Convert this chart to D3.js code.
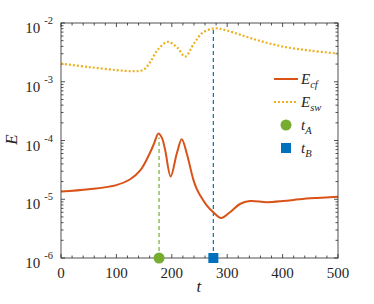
<!DOCTYPE html>
<html>
<head>
<meta charset="utf-8">
<title>E vs t</title>
<script src="https://cdn.jsdelivr.net/npm/d3@7"></script>
<style>
  body { margin: 0; background: #fff; }
  svg text { font-family: "Liberation Serif", "DejaVu Serif", serif; }
</style>
</head>
<body>
<div id="chart"></div>
<script>
// values
var tCf = [0, 50, 100, 125, 143, 160, 168, 176, 182, 188, 198, 209, 218, 227, 239, 245, 251, 263, 275, 289, 305, 323, 341, 371, 401, 431, 462, 500];
var eCf = [1.35e-5, 1.48e-5, 1.74e-5, 2.19e-5, 3.09e-5, 6.0e-5, 8.9e-5, 1.32e-4, 1.12e-4, 6.9e-5, 2.45e-5, 6.0e-5, 1.05e-4, 6.0e-5, 2.14e-5, 1.5e-5, 1.17e-5, 7.9e-6, 6.0e-6, 4.8e-6, 6.0e-6, 8.3e-6, 9.3e-6, 8.9e-6, 9.3e-6, 1.0e-5, 1.05e-5, 1.1e-5];

var tSw = [0, 50, 100, 130, 148, 160, 175, 193, 210, 224, 240, 255, 278, 300, 350, 400, 450, 500];
var eSw = [2.04e-3, 1.78e-3, 1.58e-3, 1.51e-3, 1.58e-3, 2.09e-3, 3.55e-3, 4.79e-3, 3.8e-3, 2.69e-3, 4.47e-3, 6.76e-3, 8.13e-3, 7.41e-3, 5.25e-3, 3.98e-3, 3.39e-3, 3.02e-3];

var tA = 177, tB = 275;
var xTicks = [0, 100, 200, 300, 400, 500];
var yExps = [-6, -5, -4, -3, -2];

var W = 374, H = 304;
var m = {left: 61, right: 36, top: 23, bottom: 46};

var svg = d3.select("#chart").append("svg")
    .attr("width", W).attr("height", H);

var x = d3.scaleLinear().domain([0, 500]).range([m.left, W - m.right]);
var y = d3.scaleLog().domain([1e-6, 1e-2]).range([H - m.bottom, m.top]);

var axisCol = "#262626";
var x0 = x(0), x1 = x(500), y0 = y(1e-6), y1 = y(1e-2);

// ticks, inward on all four sides
var g = svg.append("g").attr("stroke", axisCol).attr("stroke-width", 0.8);
d3.range(0, 501, 20).forEach(function(v) {
  var len = v % 100 === 0 ? 4 : 2.5;
  g.append("line").attr("x1", x(v)).attr("x2", x(v)).attr("y1", y0).attr("y2", y0 - len);
  g.append("line").attr("x1", x(v)).attr("x2", x(v)).attr("y1", y1).attr("y2", y1 + len);
});
yExps.forEach(function(e) {
  for (var k = 1; k <= 9; k++) {
    if (e === -2 && k > 1) break;
    var v = k * Math.pow(10, e), len = k === 1 ? 4 : 2.5;
    g.append("line").attr("x1", x0).attr("x2", x0 + len).attr("y1", y(v)).attr("y2", y(v));
    g.append("line").attr("x1", x1).attr("x2", x1 - len).attr("y1", y(v)).attr("y2", y(v));
  }
});

// tick labels
svg.selectAll(".xl").data(xTicks).enter().append("text")
    .attr("x", function(d) { return x(d); })
    .attr("y", y0 + 20)
    .attr("text-anchor", "middle")
    .style("font-size", "15px")
    .style("fill", axisCol)
    .text(function(d) { return d; });

var yl = svg.selectAll(".yl").data(yExps).enter().append("text")
    .attr("x", x0 - 8)
    .attr("y", function(d) { return y(Math.pow(10, d)) + 10; })
    .attr("text-anchor", "end")
    .style("font-size", "15px")
    .style("fill", axisCol);
yl.append("tspan").text("10");
yl.append("tspan").attr("dx", 4).attr("dy", -9).style("font-size", "10.5px")
    .text(function(d) { return d; });

// axis titles
svg.append("text").attr("x", x(250) - 3).attr("y", H - 12)
    .style("font-size", "17px").style("font-style", "italic").style("fill", axisCol).text("t");
svg.append("text")
    .attr("transform", "translate(17," + (y(1e-4) - 1) + ") rotate(-90)")
    .attr("text-anchor", "middle")
    .style("font-size", "17px").style("font-style", "italic").style("fill", axisCol).text("E");

// vertical markers
var cfAt = function(t) {
  var i = d3.bisectLeft(tCf, t);
  return eCf[Math.min(i, eCf.length - 1)];
};
svg.append("line").attr("x1", x(tA)).attr("x2", x(tA))
    .attr("y1", y0).attr("y2", y(cfAt(tA)))
    .attr("stroke", "#77AC30").attr("stroke-width", 1.2).attr("stroke-dasharray", "4,3");
svg.append("line").attr("x1", x(tB)).attr("x2", x(tB))
    .attr("y1", y0).attr("y2", y(8.0e-3))
    .attr("stroke", "#0072BD").attr("stroke-width", 1.2).attr("stroke-dasharray", "4,3");

var line = d3.line().curve(d3.curveCatmullRom)
    .x(function(d) { return x(d[0]); })
    .y(function(d) { return y(d[1]); });

svg.append("path").datum(d3.zip(tSw, eSw)).attr("d", line)
    .attr("fill", "none").attr("stroke", "#EDB120")
    .attr("stroke-width", 2.2).attr("stroke-dasharray", "2,2");
svg.append("path").datum(d3.zip(tCf, eCf)).attr("d", line)
    .attr("fill", "none").attr("stroke", "#D95319").attr("stroke-width", 2);

// box
svg.append("rect").attr("x", x0).attr("y", y1)
    .attr("width", x1 - x0).attr("height", y0 - y1)
    .attr("fill", "none").attr("stroke", axisCol).attr("stroke-width", 0.8);

// markers at bottom axis
svg.append("circle").attr("cx", x(tA)).attr("cy", y0).attr("r", 5.5).attr("fill", "#77AC30");
svg.append("rect").attr("x", x(tB) - 5).attr("y", y0 - 5).attr("width", 10).attr("height", 10)
    .attr("fill", "#0072BD");

// legend
var lg = svg.append("g");
var lx = 274, ly = [79, 102, 125, 148];
lg.append("line").attr("x1", lx).attr("x2", lx + 24).attr("y1", ly[0]).attr("y2", ly[0])
    .attr("stroke", "#D95319").attr("stroke-width", 2);
lg.append("line").attr("x1", lx).attr("x2", lx + 24).attr("y1", ly[1]).attr("y2", ly[1])
    .attr("stroke", "#EDB120").attr("stroke-width", 2.2).attr("stroke-dasharray", "2,2");
lg.append("circle").attr("cx", lx + 12).attr("cy", ly[2]).attr("r", 5.5).attr("fill", "#77AC30");
lg.append("rect").attr("x", lx + 7).attr("y", ly[3] - 5).attr("width", 10).attr("height", 10)
    .attr("fill", "#0072BD");

var names = [["E", "cf"], ["E", "sw"], ["t", "A"], ["t", "B"]];
names.forEach(function(n, i) {
  var t = lg.append("text").attr("x", lx + 27).attr("y", ly[i] + 5)
      .style("font-size", "15px").style("font-style", "italic").style("fill", axisCol);
  t.append("tspan").text(n[0]);
  t.append("tspan").attr("dy", 4).style("font-size", "10.5px").text(n[1]);
});
</script>
</body>
</html>
